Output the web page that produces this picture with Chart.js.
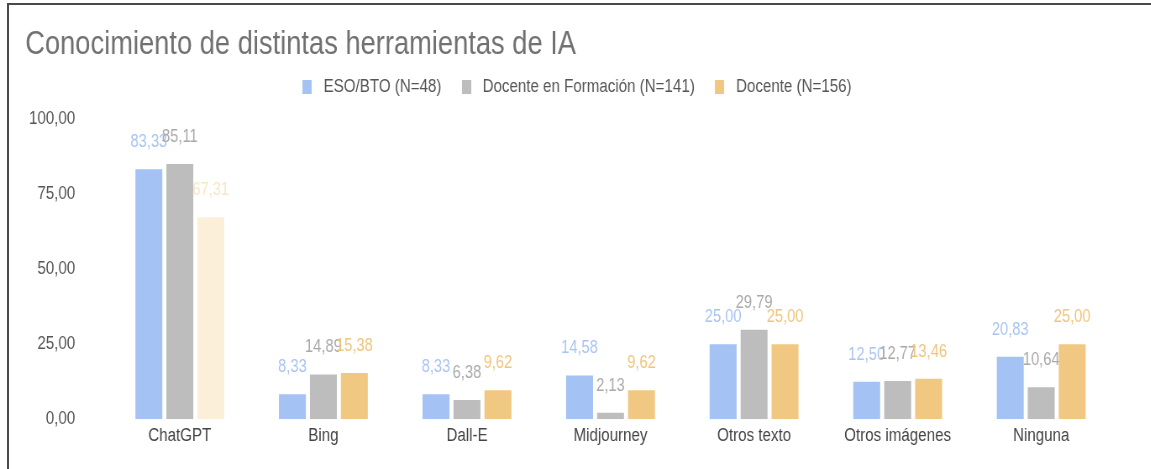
<!DOCTYPE html>
<html>
<head>
<meta charset="utf-8">
<script src="https://cdn.jsdelivr.net/npm/chart.js@4/dist/chart.umd.min.js"></script>
<style>
  html, body { margin: 0; padding: 0; background: #fff; overflow: hidden; }
  #wrap { position: relative; width: 1151px; height: 469px; overflow: hidden; }
  #frame { position: absolute; left: 7px; top: 3px; right: -10px; bottom: -10px;
           border-left: 2px solid #4a4a4a; border-top: 2px solid #4a4a4a; pointer-events: none; }
  canvas#c { position: absolute; left: 0; top: 0; transform-origin: 0 0; transform: scaleX(0.84); }
</style>
</head>
<body>
<div id="wrap">
  <canvas id="c" width="1370" height="469"></canvas>
  <div id="frame"></div>
</div>
<script>
const categories = ['ChatGPT', 'Bing', 'Dall-E', 'Midjourney', 'Otros texto', 'Otros imágenes', 'Ninguna'];
const seriesNames = ['ESO/BTO (N=48)', 'Docente en Formación (N=141)', 'Docente (N=156)'];
const esoBto = [83.33, 8.33, 8.33, 14.58, 25.00, 12.50, 20.83];
const docenteFormacion = [85.11, 14.89, 6.38, 2.13, 29.79, 12.77, 10.64];
const docente = [67.31, 15.38, 9.62, 9.62, 25.00, 13.46, 25.00];
const yTicks = [0, 25, 50, 75, 100];

const FONT = "'Liberation Sans', Arial, sans-serif";
const fmt = v => v.toFixed(2).replace('.', ',');

const barColors = ['#a4c2f4', '#bdbdbd', '#f0c882'];
const labelColors = ['#a9c4f1', '#a9a9a9', '#f0c47c'];
const fadedBar = '#fbefd9';
const fadedLabel = '#f9e6c4';

function swatch(color) {
  const c = document.createElement('canvas');
  c.width = 11; c.height = 14;
  const x = c.getContext('2d');
  x.fillStyle = color; x.fillRect(0, 0, 11, 14);
  return c;
}
const swatches = barColors.map(swatch);

const dataLabels = {
  id: 'dataLabels',
  afterDatasetsDraw(chart) {
    const ctx = chart.ctx;
    ctx.save();
    ctx.font = '17.5px ' + FONT;
    ctx.textAlign = 'center';
    ctx.textBaseline = 'middle';
    chart.data.datasets.forEach((ds, di) => {
      const meta = chart.getDatasetMeta(di);
      meta.data.forEach((bar, i) => {
        const lc = Array.isArray(ds.labelColor) ? ds.labelColor[i] : ds.labelColor;
        ctx.fillStyle = lc;
        ctx.fillText(fmt(ds.data[i]), bar.x, bar.y - 27);
      });
    });
    ctx.restore();
  }
};

const legendTweak = {
  id: 'legendTweak',
  beforeUpdate(chart) {
    const lg = chart.legend;
    if (lg && !lg._patched) {
      const orig = lg.fit;
      lg.fit = function() { orig.call(this); this.height += 13; };
      lg._patched = true;
    }
  },
  afterLayout(chart) {
    const lg = chart.legend;
    if (lg) { lg.left += 7; lg.right += 7; }
  }
};

new Chart(document.getElementById('c'), {
  type: 'bar',
  data: {
    labels: categories,
    datasets: [
      { label: seriesNames[0], data: esoBto, backgroundColor: barColors[0], labelColor: labelColors[0] },
      { label: seriesNames[1], data: docenteFormacion, backgroundColor: barColors[1], labelColor: labelColors[1] },
      { label: seriesNames[2], data: docente,
        backgroundColor: docente.map((v, i) => i === 0 ? fadedBar : barColors[2]),
        labelColor: docente.map((v, i) => i === 0 ? fadedLabel : labelColors[2]) }
    ]
  },
  options: {
    responsive: false,
    animation: false,
    devicePixelRatio: 1,
    layout: { padding: { left: 30, right: 45, top: 4, bottom: 13 } },
    datasets: { bar: { categoryPercentage: 0.647, barPercentage: 0.87 } },
    plugins: {
      title: {
        display: true, text: 'Conocimiento de distintas herramientas de IA',
        align: 'start', color: '#717171',
        font: { family: FONT, size: 32.5, weight: 'normal', lineHeight: 0.9 },
        padding: { top: 26, bottom: 0 }
      },
      legend: {
        display: true, position: 'top', align: 'center',
        labels: {
          usePointStyle: true, pointStyleWidth: 21, boxHeight: 14,
          padding: 19, color: '#555',
          font: { family: FONT, size: 18 },
          generateLabels(chart) {
            return chart.data.datasets.map((ds, i) => ({
              text: ds.label, fillStyle: barColors[i], strokeStyle: barColors[i],
              pointStyle: swatches[i], lineWidth: 0, hidden: false,
              datasetIndex: i, fontColor: '#555'
            }));
          }
        }
      },
      tooltip: { enabled: false }
    },
    scales: {
      x: {
        grid: { display: false, drawTicks: false }, border: { display: false },
        ticks: { color: '#444', font: { family: FONT, size: 18 }, padding: 6, maxRotation: 0 }
      },
      y: {
        min: 0, max: 100,
        afterBuildTicks(scale) { scale.ticks = yTicks.map(v => ({ value: v })); },
        afterFit(scale) { scale.width = 98.6; },
        grid: { display: false, drawTicks: false }, border: { display: false },
        ticks: { color: '#555', font: { family: FONT, size: 18 }, padding: 39,
                 callback: v => fmt(v) }
      }
    }
  },
  plugins: [dataLabels, legendTweak]
});
</script>
</body>
</html>
